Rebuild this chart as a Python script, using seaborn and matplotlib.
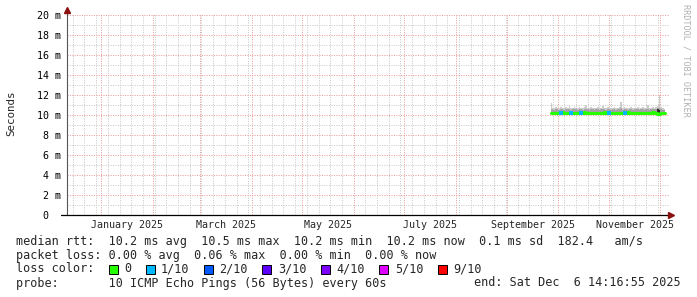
import matplotlib
matplotlib.use("Agg")
import matplotlib.pyplot as plt
import matplotlib.dates as mdates
import matplotlib.ticker as mticker
from matplotlib.patches import Rectangle
from matplotlib.transforms import blended_transform_factory
import numpy as np
import pandas as pd
import seaborn as sns

# ---------------- data ----------------
first_sample = "2025-09-27"
end_time = "2025-12-06 14:16:55"
span_days = 360

median_ms = [10.2, 10.2, 10.15, 10.2, 10.2, 10.2, 10.2, 10.25, 10.2, 10.2,
             10.2, 10.2, 10.2, 10.15, 10.2, 10.2, 10.2, 10.2, 10.2, 10.2,
             10.25, 10.2, 10.2, 10.2, 10.2, 10.15, 10.2, 10.2, 10.2, 10.2,
             10.2, 10.2, 10.25, 10.2, 10.2, 10.2, 10.2, 10.2, 10.15, 10.2,
             10.2, 10.2, 10.2, 10.2, 10.2, 10.2, 10.25, 10.2, 10.2, 10.2,
             10.2, 10.2, 10.2, 10.15, 10.2, 10.2, 10.2, 10.2, 10.2, 10.2,
             10.2, 10.25, 10.2, 10.2, 10.1, 10.1, 10.2, 10.2, 10.2]
min_ms = [10.0, 10.05, 10.0, 10.05, 10.05, 10.0, 10.05, 10.05, 10.0, 10.05,
          10.05, 10.0, 10.05, 10.0, 10.05, 10.05, 10.0, 10.05, 10.05, 10.0,
          10.05, 10.0, 10.05, 10.05, 10.0, 10.0, 10.05, 10.05, 10.0, 10.05,
          10.05, 10.0, 10.05, 10.05, 10.0, 10.05, 10.05, 10.0, 10.0, 10.05,
          10.05, 10.0, 10.05, 10.05, 10.0, 10.05, 10.05, 10.0, 10.05, 10.05,
          10.0, 10.05, 10.05, 10.0, 10.05, 10.05, 10.0, 10.05, 10.05, 10.0,
          10.05, 10.05, 10.0, 10.05, 9.9, 9.9, 10.0, 10.05, 10.05]
upper_ms = [10.6, 10.55, 10.5, 10.55, 10.6, 10.5, 10.55, 10.6, 10.5, 10.55,
            10.55, 10.6, 10.5, 10.55, 10.6, 10.55, 10.5, 10.6, 10.55, 10.5,
            10.6, 10.6, 10.55, 10.5, 10.6, 10.55, 10.5, 10.55, 10.6, 10.5,
            10.55, 10.6, 10.55, 10.5, 10.6, 10.55, 10.5, 10.55, 10.6, 10.5,
            10.55, 10.6, 10.65, 10.5, 10.55, 10.6, 10.5, 10.55, 10.6, 10.5,
            10.55, 10.6, 10.55, 10.5, 10.6, 10.55, 10.5, 10.55, 10.6, 10.5,
            10.55, 10.6, 10.55, 10.6, 10.65, 10.65, 10.55, 10.5, 10.5]
max_ms = [11.2, 10.7, 10.7, 10.8, 10.7, 10.7, 10.8, 10.7, 10.7, 10.8,
          10.7, 10.9, 10.7, 10.7, 10.8, 10.7, 10.7, 10.8, 10.7, 10.7,
          10.8, 11.0, 10.7, 10.7, 10.8, 10.7, 10.7, 10.7, 10.8, 10.7,
          10.7, 10.9, 10.7, 10.7, 10.8, 10.7, 10.7, 10.7, 10.8, 10.7,
          10.7, 10.8, 11.3, 10.7, 10.8, 10.7, 10.7, 10.7, 10.8, 10.7,
          10.7, 10.7, 10.8, 10.7, 10.7, 10.8, 10.7, 10.7, 11.0, 10.7,
          10.7, 10.8, 10.7, 10.8, 10.9, 12.0, 10.8, 10.7, 10.6]
inner_lo_ms = [10.1, 10.1, 10.1, 10.1, 10.1, 10.1, 10.1, 10.1, 10.1, 10.1,
               10.1, 10.1, 10.1, 10.1, 10.1, 10.1, 10.1, 10.1, 10.1, 10.1,
               10.1, 10.1, 10.1, 10.1, 10.1, 10.1, 10.1, 10.1, 10.1, 10.1,
               10.1, 10.1, 10.1, 10.1, 10.1, 10.1, 10.1, 10.1, 10.1, 10.1,
               10.1, 10.1, 10.1, 10.1, 10.1, 10.1, 10.1, 10.1, 10.1, 10.1,
               10.1, 10.1, 10.1, 10.1, 10.1, 10.1, 10.1, 10.1, 10.1, 10.1,
               10.1, 10.1, 10.1, 10.1, 9.95, 9.9, 10.1, 10.1, 10.1]
inner_hi_ms = [10.3, 10.3, 10.3, 10.3, 10.3, 10.3, 10.3, 10.3, 10.3, 10.3,
               10.3, 10.3, 10.3, 10.3, 10.3, 10.3, 10.3, 10.3, 10.3, 10.3,
               10.3, 10.3, 10.3, 10.3, 10.3, 10.3, 10.3, 10.3, 10.3, 10.3,
               10.3, 10.3, 10.3, 10.3, 10.3, 10.3, 10.3, 10.3, 10.3, 10.3,
               10.3, 10.3, 10.3, 10.3, 10.3, 10.3, 10.3, 10.3, 10.3, 10.3,
               10.3, 10.3, 10.3, 10.3, 10.3, 10.3, 10.3, 10.3, 10.3, 10.3,
               10.3, 10.3, 10.3, 10.3, 10.55, 10.5, 10.3, 10.3, 10.3]
loss_tenths = [0, 0, 0, 0, 0, 0, 1, 0, 0, 0,
               0, 0, 1, 0, 0, 0, 0, 0, 1, 0,
               0, 0, 0, 0, 0, 0, 0, 0, 0, 0,
               0, 0, 0, 0, 0, 1, 0, 0, 0, 0,
               0, 0, 0, 0, 1, 0, 0, 0, 0, 0,
               0, 0, 0, 0, 0, 0, 0, 0, 0, 0,
               0, 0, 0, 0, 0, 0, 0, 0, 0]

y_ticks_ms = [0, 2, 4, 6, 8, 10, 12, 14, 16, 18, 20]
y_tick_labels = ["0  ", "2 m", "4 m", "6 m", "8 m", "10 m", "12 m", "14 m", "16 m", "18 m", "20 m"]
month_labels = ["January 2025", "March 2025", "May 2025", "July 2025", "September 2025", "November 2025"]
month_label_starts = ["2025-01-01", "2025-03-01", "2025-05-01", "2025-07-01", "2025-09-01", "2025-11-01"]

loss_legend_labels = ["0", "1/10", "2/10", "3/10", "4/10", "5/10", "9/10"]
loss_legend_colors = ["#26ff00", "#00b8ff", "#0059ff", "#5e00ff", "#7e00ff", "#dd00ff", "#ff0000"]

line_rtt = "median rtt:  10.2 ms avg  10.5 ms max  10.2 ms min  10.2 ms now  0.1 ms sd  182.4   am/s"
line_loss = "packet loss: 0.00 % avg  0.06 % max  0.00 % min  0.00 % now"
line_color = "loss color:"
line_probe = "probe:       10 ICMP Echo Pings (56 Bytes) every 60s"
line_end = "end: Sat Dec  6 14:16:55 2025"
watermark = "RRDTOOL / TOBI OETIKER"
y_title = "Seconds"

# ---------------- style ----------------
sns.set_theme(style="white")
plt.rcParams["font.family"] = ["DejaVu Sans Mono", "DejaVu Sans"]
plt.rcParams["axes.facecolor"] = "white"
plt.rcParams["figure.facecolor"] = "white"

W, H = 697, 297
fig = plt.figure(figsize=(W / 100, H / 100), dpi=100)
ax = fig.add_axes([67 / W, (H - 215) / H, 602 / W, 200 / H])

df = pd.DataFrame({
    "time": pd.date_range(first_sample, periods=len(median_ms), freq="D"),
    "median": median_ms, "min": min_ms, "upper": upper_ms, "max": max_ms,
    "inner_lo": inner_lo_ms, "inner_hi": inner_hi_ms, "loss": loss_tenths,
})

# smoke
ax.fill_between(df["time"], df["min"], df["max"], step="mid", color="#cccccc", lw=0, zorder=2)
ax.fill_between(df["time"], df["min"], df["upper"], step="mid", color="#a4a4a4", lw=0, zorder=3)
ax.fill_between(df["time"], df["inner_lo"], df["inner_hi"], step="mid", color="#303030", lw=0, zorder=4)
# median line
sns.lineplot(data=df, x="time", y="median", color="#26ff00", lw=2.2, drawstyle="steps-mid",
             ax=ax, zorder=5)
lossy = df[df["loss"] > 0]
sns.scatterplot(data=lossy, x="time", y="median", color="#00b8ff", marker="s", s=5,
                linewidth=0, ax=ax, zorder=6)

end_ts = pd.Timestamp(end_time)
start_ts = end_ts - pd.Timedelta(days=span_days)
ax.set_xlim(start_ts, end_ts)
ax.set_ylim(0, 20)

# grid
ax.xaxis.set_major_locator(mdates.MonthLocator())
ax.xaxis.set_minor_locator(mdates.WeekdayLocator(byweekday=mdates.SU))
ax.xaxis.set_major_formatter(mticker.NullFormatter())
ax.yaxis.set_major_locator(mticker.FixedLocator(y_ticks_ms))
ax.yaxis.set_minor_locator(mticker.MultipleLocator(1))
ax.set_yticklabels(y_tick_labels)
ax.set_axisbelow(True)
ax.grid(which="minor", color="#c8c8c8", linestyle=(0, (1, 1.4)), linewidth=0.72)
ax.grid(which="major", color="#eb9a9a", linestyle=(0, (1, 1.4)), linewidth=0.72)
ax.tick_params(axis="both", which="both", length=0)
ax.tick_params(axis="y", labelsize=7.2, pad=4.5, colors="black")
ax.set_xlabel("")
ax.set_ylabel("")
for s in ax.spines.values():
    s.set_visible(False)

# month labels centred in their month
tr = blended_transform_factory(ax.transData, ax.transAxes)
for lab, ms in zip(month_labels, month_label_starts):
    a = pd.Timestamp(ms)
    b = a + pd.offsets.MonthBegin(1)
    mid = a + (b - a) / 2
    ax.text(mid, -0.05, lab, transform=tr, ha="center", va="center", fontsize=7.2)

# axes lines + arrows
ax.plot([0, 0], [0, 1.02], transform=ax.transAxes, color="#555555", lw=0.8, clip_on=False, zorder=7)
ax.plot([-6 / 602, 1.0], [0, 0], transform=ax.transAxes, color="black", lw=0.9, clip_on=False, zorder=7)
ax.plot([0], [1.027], transform=ax.transAxes, marker="^", color="#8b1010", ms=4.5, clip_on=False, zorder=8)
ax.plot([1.004], [0], transform=ax.transAxes, marker=">", color="#8b1010", ms=4.5, clip_on=False, zorder=8)

# titles
fig.text(11 / W, 1 - 113 / H, y_title, rotation=90, ha="center", va="center", fontsize=7.8)
fig.text(686 / W, 1 - 4 / H, watermark, rotation=-90, ha="center", va="top", fontsize=6.1, color="#b0b0b0")

# legend block
fs = 8.5
cw = 7.1
fig.text(16 / W, 1 - 241 / H, line_rtt, ha="left", va="center", fontsize=fs)
fig.text(16 / W, 1 - 255 / H, line_loss, ha="left", va="center", fontsize=fs)
fig.text(16 / W, 1 - 269 / H, line_color, ha="left", va="center", fontsize=fs)
fig.text(16 / W, 1 - 283 / H, line_probe, ha="left", va="center", fontsize=fs)
fig.text(681 / W, 1 - 283 / H, line_end, ha="right", va="center", fontsize=fs)

x = 108.5
for lab, col in zip(loss_legend_labels, loss_legend_colors):
    fig.add_artist(Rectangle((x / W, 1 - 274 / H), 9 / W, 9 / H, transform=fig.transFigure,
                             facecolor=col, edgecolor="black", lw=0.7))
    lx = x + 15.5
    fig.text(lx / W, 1 - 269 / H, lab, ha="left", va="center", fontsize=fs)
    x = lx + len(lab) * cw + 14.5

fig.savefig("out.png", dpi=100)
